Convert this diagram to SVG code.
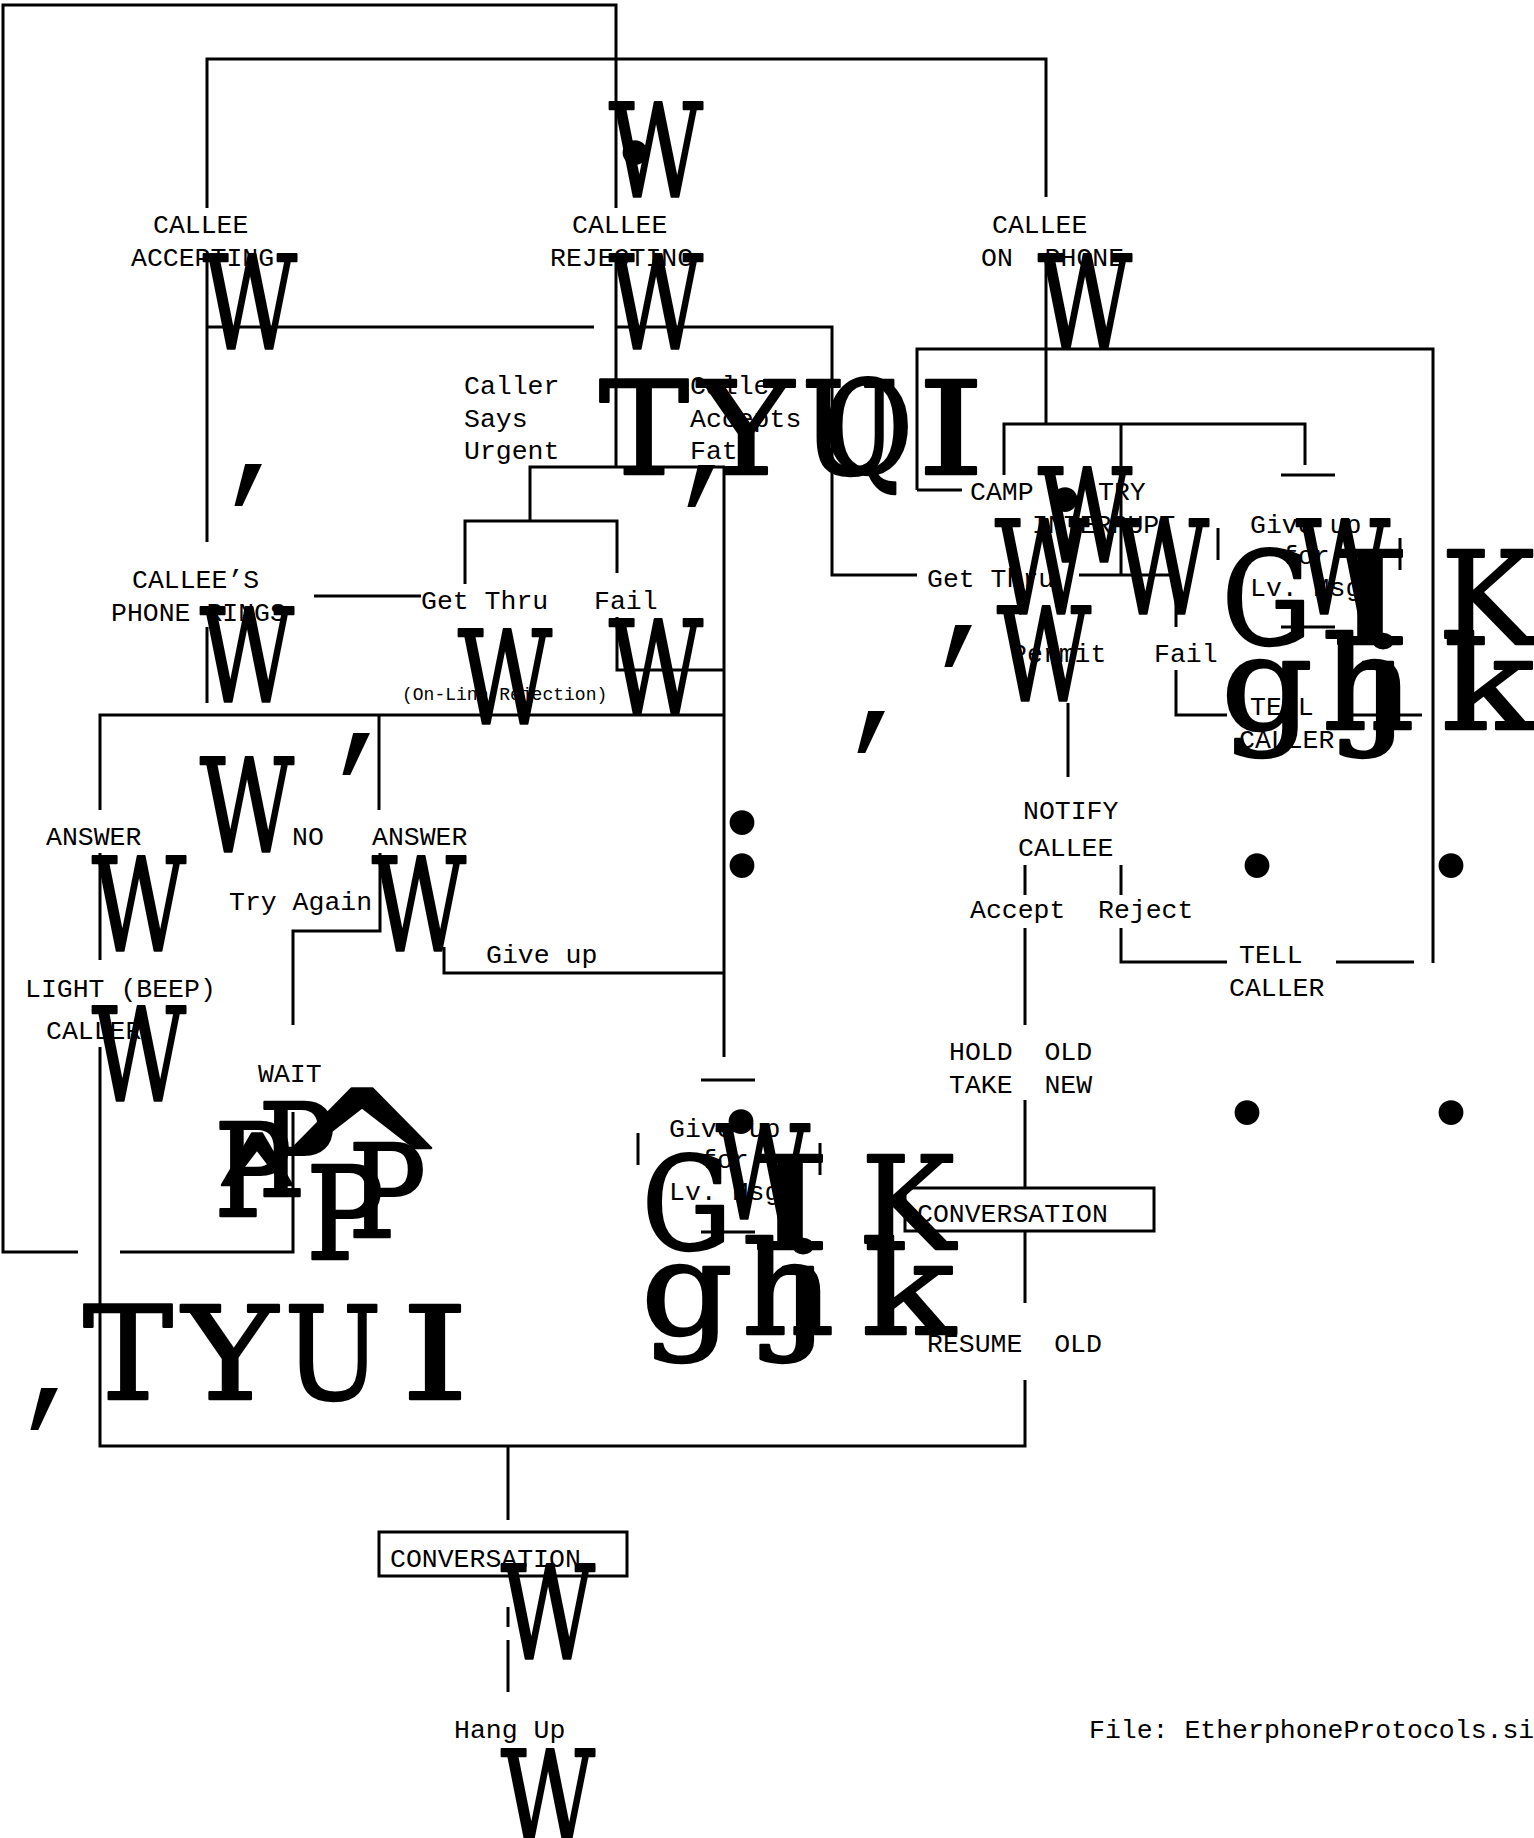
<svg xmlns="http://www.w3.org/2000/svg" width="1534" height="1838" viewBox="0 0 1534 1838" xml:space="preserve">
<style>
.t{font-family:"Liberation Mono","Courier New",monospace;font-size:26.5px;fill:#000;white-space:pre}
.s{font-size:18px}
.g{font-family:"DejaVu Serif",serif;font-size:130px;fill:#000;stroke:#000;stroke-width:2.4;stroke-linejoin:round;text-anchor:middle}
.c{font-family:"Liberation Mono",monospace;font-size:130px;fill:#000;text-anchor:middle}
.d{font-family:"Liberation Serif",serif;font-size:210px;fill:#000;text-anchor:middle}
.ln{stroke:#000;stroke-width:3;fill:none}
</style>
<rect width="1534" height="1838" fill="#fff"/>
<g id="connectors" class="ln">
<path d="M293,1112V1252H120M78,1252H3V5H616V208"/>
<path d="M207,208V59H1046V197"/>
<path d="M207,262V542M207,327H594M207,627V703"/>
<path d="M616,262V467M530,521V467H725M616,327H832V575H917"/>
<path d="M465,584V521H617V573M617,617V670H724M724,467V1057"/>
<path d="M314,596H421"/>
<path d="M100,810V715H724M379,715V810"/>
<path d="M100,853V960M100,1047V1446H1025V1380"/>
<path d="M380,853V931H293V1025M444,947V973H724"/>
<path d="M508,1446V1520"/>
<path d="M508,1607V1627M508,1640V1692"/>
<path d="M917,490V349H1433V963M917,490H962"/>
<path d="M1046,262V424M1004,475V424H1305V465M1121,424V575M1079,575H1176V627"/>
<path d="M1176,670V715H1227M1344,715H1422"/>
<path d="M1068,703V777M1025,865V895M1121,865V895"/>
<path d="M1025,928V1025M1025,1100V1187M1025,1231V1303"/>
<path d="M1121,928V962H1227M1336,962H1414"/>
</g>
<g id="callee-accepting"><text class="t" x="153" y="233">CALLEE</text><text class="t" x="131" y="266">ACCEPTING</text><text class="g" x="250" y="349" textLength="94" lengthAdjust="spacingAndGlyphs">W</text></g>
<g id="callee-rejecting"><text class="g" x="656" y="197" textLength="94" lengthAdjust="spacingAndGlyphs">W</text><text class="d" x="635" y="162">.</text><text class="t" x="572" y="233">CALLEE</text><text class="t" x="550" y="266">REJECTING</text><text class="g" x="656" y="349" textLength="94" lengthAdjust="spacingAndGlyphs">W</text></g>
<g id="callee-on-phone"><text class="t" x="992" y="233">CALLEE</text><text class="t" x="981" y="266">ON  PHONE</text><text class="g" x="1085" y="349" textLength="94" lengthAdjust="spacingAndGlyphs">W</text></g>
<g id="caller-says-urgent"><text class="t" x="464" y="394">Caller</text><text class="t" x="464" y="427">Says</text><text class="t" x="464" y="459">Urgent</text><text class="c" x="257" y="483">,</text></g>
<g id="caller-accepts-fate"><text class="t" x="690" y="394">Caller</text><text class="t" x="690" y="427">Accepts</text><text class="t" x="690" y="459">Fate</text>
<text class="g" x="644" y="474" textLength="90" lengthAdjust="spacingAndGlyphs">T</text><text class="c" x="710" y="484">,</text><text class="g" x="746" y="474" textLength="95" lengthAdjust="spacingAndGlyphs">Y</text><text class="g" x="850" y="474" textLength="97" lengthAdjust="spacingAndGlyphs">U</text><text class="g" x="868" y="474" textLength="90" lengthAdjust="spacingAndGlyphs">Q</text><text class="g" x="951" y="474" textLength="68" lengthAdjust="spacingAndGlyphs">I</text></g>
<g id="phone-rings"><text class="t" x="132" y="588">CALLEE’S</text><text class="t" x="111" y="621">PHONE RINGS</text><text class="g" x="247" y="702" textLength="94" lengthAdjust="spacingAndGlyphs">W</text></g>
<g id="get-thru-left"><text class="t" x="421" y="609">Get Thru</text><text class="g" x="505" y="724" textLength="94" lengthAdjust="spacingAndGlyphs">W</text><text class="t s" x="402" y="700">(On-Line Rejection)</text></g>
<g id="fail-left"><text class="t" x="594" y="609">Fail</text><text class="g" x="656" y="714" textLength="94" lengthAdjust="spacingAndGlyphs">W</text></g>
<g id="answer-left"><text class="t" x="46" y="845">ANSWER</text><text class="g" x="139" y="951" textLength="94" lengthAdjust="spacingAndGlyphs">W</text><text class="g" x="247" y="852" textLength="94" lengthAdjust="spacingAndGlyphs">W</text><text class="c" x="365" y="752">,</text></g>
<g id="no-answer"><text class="t" x="292" y="845">NO</text><text class="t" x="372" y="845">ANSWER</text><text class="g" x="419" y="951" textLength="94" lengthAdjust="spacingAndGlyphs">W</text></g>
<g id="try-again"><text class="t" x="229" y="910">Try Again</text></g>
<g id="give-up-mid"><text class="t" x="486" y="963">Give up</text></g>
<g id="light-caller"><text class="t" x="25" y="997">LIGHT (BEEP)</text><text class="t" x="46" y="1039">CALLER</text><text class="g" x="139" y="1101" textLength="94" lengthAdjust="spacingAndGlyphs">W</text></g>
<g id="wait"><text class="t" x="258" y="1082">WAIT</text>
<text class="g" x="253" y="1216" textLength="78" lengthAdjust="spacingAndGlyphs">P</text><text class="g" x="297" y="1196" textLength="78" lengthAdjust="spacingAndGlyphs">P</text><text class="g" x="345" y="1259" textLength="78" lengthAdjust="spacingAndGlyphs">P</text><text class="g" x="387" y="1237" textLength="78" lengthAdjust="spacingAndGlyphs">P</text><text class="g" x="362" y="1248" style="font-size:220px" textLength="185" lengthAdjust="spacingAndGlyphs">^</text><text class="g" x="257" y="1272" style="font-size:190px" textLength="95" lengthAdjust="spacingAndGlyphs">^</text></g>
<g id="tyui"><text class="c" x="53" y="1407">,</text><text class="g" x="128" y="1399" textLength="90" lengthAdjust="spacingAndGlyphs">T</text><text class="g" x="230" y="1399" textLength="95" lengthAdjust="spacingAndGlyphs">Y</text><text class="g" x="333" y="1399" textLength="97" lengthAdjust="spacingAndGlyphs">U</text><text class="g" x="435" y="1399" textLength="68" lengthAdjust="spacingAndGlyphs">I</text></g>
<g id="dots"><text class="d" x="742" y="832">.</text><text class="d" x="742" y="875">.</text><text class="d" x="1257" y="875">.</text><text class="d" x="1451" y="875">.</text><text class="d" x="1247" y="1122">.</text><text class="d" x="1451" y="1122">.</text></g>
<g id="give-up-lower">
<path class="ln" d="M701,1080H755M638,1133V1165M820,1143V1175M701,1232H755"/>
<text class="t" x="669" y="1137">Give up</text><text class="t" x="701" y="1168">for</text><text class="t" x="669" y="1200">Lv. Msg</text>
<text class="g" x="687" y="1249" textLength="90" lengthAdjust="spacingAndGlyphs">G</text><text class="g" x="763" y="1219" textLength="94" lengthAdjust="spacingAndGlyphs">W</text><text class="d" x="741" y="1131">.</text><text class="g" x="790" y="1249" textLength="86" lengthAdjust="spacingAndGlyphs">I</text><text class="g" x="908" y="1249" textLength="94" lengthAdjust="spacingAndGlyphs">K</text>
<text class="g" x="687" y="1334" textLength="92" lengthAdjust="spacingAndGlyphs">g</text><text class="g" x="788" y="1334" textLength="93" lengthAdjust="spacingAndGlyphs">h</text><text class="g" x="803" y="1334" textLength="52" lengthAdjust="spacingAndGlyphs">j</text><text class="g" x="908" y="1334" textLength="94" lengthAdjust="spacingAndGlyphs">k</text>
</g>
<g id="give-up-upper" transform="translate(580,-605)">
<path class="ln" d="M701,1080H755M638,1133V1165M820,1143V1175M701,1232H755"/>
<text class="t" x="670" y="1138">Give up</text><text class="t" x="702" y="1169">for</text><text class="t" x="670" y="1201">Lv. Msg</text>
<text class="g" x="687" y="1249" textLength="90" lengthAdjust="spacingAndGlyphs">G</text><text class="g" x="763" y="1219" textLength="94" lengthAdjust="spacingAndGlyphs">W</text><text class="g" x="790" y="1249" textLength="86" lengthAdjust="spacingAndGlyphs">I</text><text class="g" x="908" y="1249" textLength="94" lengthAdjust="spacingAndGlyphs">K</text>
<text class="g" x="687" y="1334" textLength="92" lengthAdjust="spacingAndGlyphs">g</text><text class="g" x="788" y="1334" textLength="93" lengthAdjust="spacingAndGlyphs">h</text><text class="g" x="803" y="1334" textLength="52" lengthAdjust="spacingAndGlyphs">j</text><text class="g" x="908" y="1334" textLength="94" lengthAdjust="spacingAndGlyphs">k</text>
</g>
<g id="get-thru-right"><text class="t" x="927" y="587">Get Thru</text></g>
<g id="camp-on"><text class="t" x="970" y="500">CAMP</text><text class="t" x="1098" y="500">TRY</text><text class="t" x="1032" y="533">INTERRUPT</text>
<text class="g" x="1085" y="562" textLength="94" lengthAdjust="spacingAndGlyphs">W</text><text class="d" x="1065" y="509">.</text><text class="g" x="1042" y="614" textLength="94" lengthAdjust="spacingAndGlyphs">W</text><text class="g" x="1162" y="614" textLength="94" lengthAdjust="spacingAndGlyphs">W</text><text class="g" x="1044" y="701" textLength="94" lengthAdjust="spacingAndGlyphs">W</text><text class="c" x="967" y="644">,</text><text class="c" x="880" y="730">,</text></g>
<g id="permit"><text class="t" x="1011" y="662">Permit</text><text class="t" x="1154" y="662">Fail</text></g>
<g id="tell-caller-1"><text class="t" x="1250" y="715">TELL</text><text class="t" x="1239" y="748">CALLER</text></g>
<g id="notify-callee"><text class="t" x="1023" y="819">NOTIFY</text><text class="t" x="1018" y="856">CALLEE</text></g>
<g id="accept-reject"><text class="t" x="970" y="918">Accept</text><text class="t" x="1098" y="918">Reject</text></g>
<g id="tell-caller-2"><text class="t" x="1239" y="963">TELL</text><text class="t" x="1229" y="996">CALLER</text></g>
<g id="hold-take"><text class="t" x="949" y="1060">HOLD  OLD</text><text class="t" x="949" y="1093">TAKE  NEW</text></g>
<g id="conversation-1"><rect class="ln" x="905" y="1188" width="249" height="43"/><text class="t" x="917" y="1222">CONVERSATION</text></g>
<g id="resume-old"><text class="t" x="927" y="1352">RESUME  OLD</text></g>
<g id="conversation-2"><rect class="ln" x="379" y="1532" width="248" height="44"/><text class="t" x="390" y="1567">CONVERSATION</text><text class="g" x="548" y="1659" textLength="94" lengthAdjust="spacingAndGlyphs">W</text></g>
<g id="hang-up"><text class="t" x="454" y="1738">Hang Up</text><text class="g" x="548" y="1844" textLength="94" lengthAdjust="spacingAndGlyphs">W</text></g>
<g id="file-label"><text class="t" x="1089" y="1738">File: EtherphoneProtocols.si</text></g>
</svg>
